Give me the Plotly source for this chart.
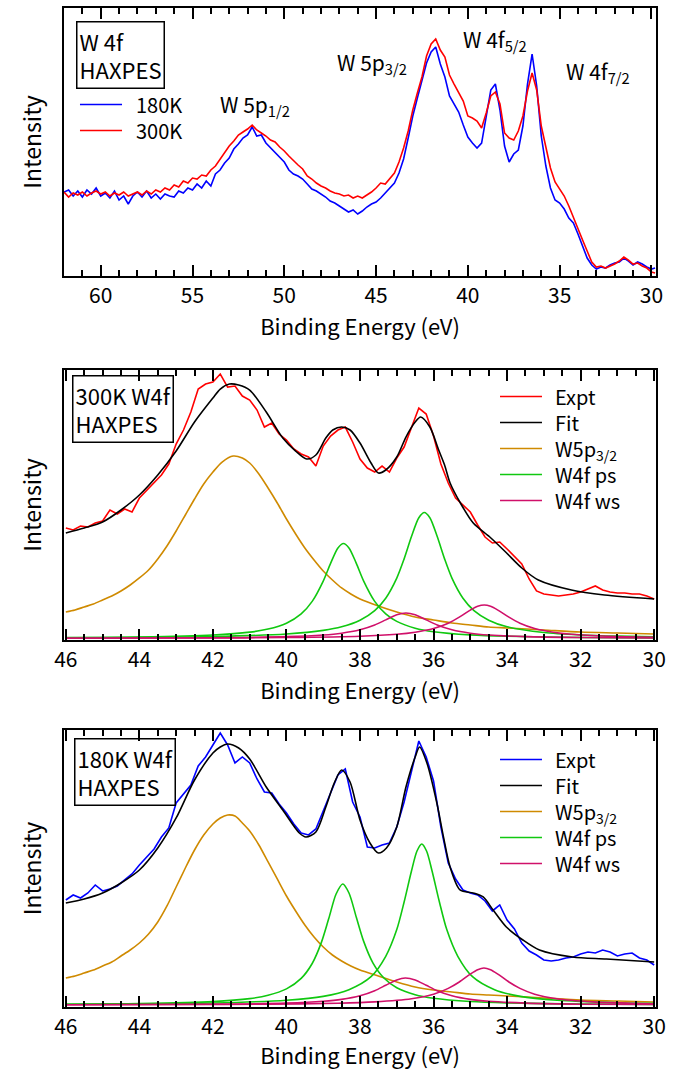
import plotly.graph_objects as go

# ---------------- Top panel: W 4f HAXPES survey (180K vs 300K) ----------------
TOP_E = [62.0, 61.75, 61.5, 61.25, 61.0, 60.75, 60.5, 60.25, 60.0, 59.75,
         59.5, 59.25, 59.0, 58.75, 58.5, 58.25, 58.0, 57.75, 57.5, 57.25,
         57.0, 56.75, 56.5, 56.25, 56.0, 55.75, 55.5, 55.25, 55.0, 54.75,
         54.5, 54.25, 54.0, 53.75, 53.5, 53.25, 53.0, 52.75, 52.5, 52.25,
         52.0, 51.75, 51.5, 51.25, 51.0, 50.75, 50.5, 50.25, 50.0, 49.75,
         49.5, 49.25, 49.0, 48.75, 48.5, 48.25, 48.0, 47.75, 47.5, 47.25,
         47.0, 46.75, 46.5, 46.25, 46.0, 45.75, 45.5, 45.25, 45.0, 44.75,
         44.5, 44.25, 44.0, 43.75, 43.5, 43.25, 43.0, 42.75, 42.5, 42.25,
         42.0, 41.75, 41.5, 41.25, 41.0, 40.75, 40.5, 40.25, 40.0, 39.75,
         39.5, 39.25, 39.0, 38.75, 38.5, 38.25, 38.0, 37.75, 37.5, 37.25,
         37.0, 36.75, 36.5, 36.25, 36.0, 35.75, 35.5, 35.25, 35.0, 34.75,
         34.5, 34.25, 34.0, 33.75, 33.5, 33.25, 33.0, 32.75, 32.5, 32.25,
         32.0, 31.75, 31.5, 31.25, 31.0, 30.75, 30.5, 30.25, 30.0, 29.8]

RED_300K_TOP = [84, 79, 83, 81, 84, 80, 83, 85, 82, 84,
                80, 83, 81, 84, 80, 82, 84, 81, 85, 82,
                86, 84, 88, 86, 91, 89, 95, 93, 98, 97,
                101, 100, 106, 110, 117, 123, 130, 135, 141, 144,
                147, 151, 146, 143, 140, 136, 134, 129, 125, 120,
                115, 111, 107, 100, 97, 93, 90, 88, 85, 83,
                82, 80, 81, 78, 80, 78, 81, 84, 88, 93,
                92, 98, 103, 114, 128, 145, 166, 183, 199, 220,
                232, 237, 226, 219, 201, 192, 183, 175, 160, 158,
                155, 148, 163, 180, 184, 172, 143, 138, 136, 145,
                160, 185, 203, 186, 150, 128, 108, 94, 87, 80,
                70, 58, 46, 36, 25, 14, 9, 10, 8, 10,
                12, 15, 19, 16, 12, 13, 10, 8, 4, 3]

BLUE_180K_TOP = [84, 86, 80, 85, 79, 86, 82, 88, 80, 83,
                 78, 85, 76, 80, 72, 80, 84, 79, 85, 78,
                 82, 77, 82, 80, 79, 85, 83, 88, 86, 92,
                 88, 95, 90, 102, 106, 113, 118, 127, 132, 138,
                 141, 149, 140, 141, 133, 128, 124, 118, 114, 106,
                 102, 100, 97, 92, 87, 85, 82, 79, 75, 73,
                 70, 67, 64, 66, 62, 65, 69, 72, 74, 78,
                 83, 88, 93, 103, 117, 138, 160, 178, 196, 213,
                 224, 229, 212, 199, 180, 172, 164, 151, 139, 133,
                 128, 133, 160, 186, 192, 166, 130, 114, 122, 126,
                 150, 192, 222, 190, 140, 110, 88, 76, 73, 67,
                 58, 53, 42, 30, 18, 11, 7, 9, 8, 11,
                 13, 14, 18, 15, 11, 14, 12, 9, 7, 8]

TOP_LABELS = ["W 5p<sub>1/2</sub>", "W 5p<sub>3/2</sub>", "W 4f<sub>5/2</sub>", "W 4f<sub>7/2</sub>"]
TOP_LABEL_E = [51.6, 45.2, 38.5, 32.9]
TOP_LABEL_I = [171, 213, 236, 204]

# ---------------- Middle / bottom panels: experimental spectra ----------------
FIT_EXPT_E = [46.0, 45.8, 45.6, 45.4, 45.2, 45.0, 44.8, 44.6, 44.4, 44.2,
              44.0, 43.8, 43.6, 43.4, 43.2, 43.0, 42.8, 42.6, 42.4, 42.2,
              42.0, 41.8, 41.6, 41.4, 41.2, 41.0, 40.8, 40.6, 40.4, 40.2,
              40.0, 39.8, 39.6, 39.4, 39.2, 39.0, 38.8, 38.6, 38.4, 38.2,
              38.0, 37.8, 37.6, 37.4, 37.2, 37.0, 36.8, 36.6, 36.4, 36.2,
              36.0, 35.8, 35.6, 35.4, 35.2, 35.0, 34.8, 34.6, 34.4, 34.2,
              34.0, 33.8, 33.6, 33.4, 33.2, 33.0, 32.8, 32.6, 32.4, 32.2,
              32.0, 31.8, 31.6, 31.4, 31.2, 31.0, 30.8, 30.6, 30.4, 30.2,
              30.0]

EXPT_300K = [112, 110, 114, 113, 117, 119, 130, 126, 131, 128,
             142, 150, 157, 165, 176, 196, 210, 228, 251, 256,
             258, 266, 253, 254, 244, 240, 230, 213, 217, 206,
             200, 191, 186, 183, 174, 194, 204, 210, 213, 198,
             181, 172, 168, 174, 168, 182, 193, 212, 232, 226,
             204, 176, 157, 142, 135, 128, 115, 103, 97, 98,
             91, 84, 76, 61, 49, 46, 45, 44, 45, 46,
             48, 51, 54, 50, 48, 47, 47, 46, 46, 44,
             41]

EXPT_180K = [107, 112, 109, 114, 122, 116, 118, 121, 127, 133,
             142, 150, 158, 170, 179, 204, 213, 222, 241, 250,
             262, 274, 262, 244, 250, 244, 228, 215, 214, 203,
             194, 183, 174, 172, 178, 196, 214, 232, 238, 205,
             190, 160, 159, 162, 164, 180, 205, 236, 266, 250,
             226, 180, 144, 128, 117, 114, 112, 106, 96, 102,
             87, 78, 64, 56, 52, 47, 46, 47, 49, 50,
             53, 55, 54, 57, 55, 51, 53, 54, 49, 47,
             42]

# ---------------- Fit envelopes ----------------
FIT_300K_E = [46, 45.5, 45, 44.5, 44, 43.5, 43, 42.5, 42, 41.8,
              41.55, 41.3, 41, 40.55, 40.1, 39.75, 39.45, 39.2, 38.93, 38.74,
              38.5, 38.27, 38, 37.7, 37.5, 37.3, 37, 36.75, 36.5, 36.35,
              36.1, 35.86, 35.7, 35.55, 35.27, 34.92, 34.47, 34.04, 33.6, 33.15,
              32.25, 31.35, 30]
FIT_300K = [107, 112, 118, 130, 145, 165, 189, 218, 242, 251,
            256, 255, 250, 228, 202, 189, 181, 185, 202, 210,
            213, 210, 197, 177, 167, 170, 183, 203, 218, 223,
            213, 190, 175, 157, 137, 117, 103, 88, 72, 60,
            50, 45, 41]

FIT_180K_E = [46, 45.5, 45, 44.5, 44, 43.5, 43, 42.5, 42, 41.8,
              41.6, 41.3, 41, 40.55, 40.1, 39.65, 39.47, 39.2, 38.93, 38.7,
              38.5, 38.27, 38, 37.73, 37.5, 37.28, 37, 36.75, 36.5, 36.38,
              36.18, 35.91, 35.73, 35.55, 35.28, 34.92, 34.65, 34.38, 34.02, 33.57,
              33.12, 32.22, 31.3, 30]
FIT_180K = [104, 108, 114, 124, 137, 159, 189, 227, 254, 260,
            263, 259, 248, 220, 197, 174, 170, 175, 200, 224,
            237, 225, 187, 164, 154, 159, 180, 220, 250, 260,
            244, 204, 170, 140, 117, 114, 110, 97, 80, 67,
            57, 50, 48, 45]

# ---------------- Components, 300K ----------------
W5P_300K_E = [46, 45.75, 45.5, 45.25, 45, 44.75, 44.5, 44.25, 44, 43.75, 43.5, 43.25, 43,
              42.75, 42.5, 42.25, 42, 41.75, 41.45, 41.2, 41, 40.75, 40.5, 40.25, 40,
              39.75, 39.5, 39.25, 39, 38.75, 38.5, 38.25, 38, 37.5, 37, 36.5, 36,
              35.5, 35, 34.5, 34, 33, 32, 31, 30]
W5P_300K = [28, 30, 33, 36, 40, 44, 49, 55, 62, 70, 81, 94, 109,
            125, 141, 156, 168, 178, 184, 182, 177, 166, 152, 137, 121,
            106, 92, 80, 69, 60, 52, 46, 41, 34, 28, 23, 20,
            17, 15, 13, 12, 10, 8, 7, 6]

PS1_300K_E = [46, 44, 42, 41, 40.5, 40, 39.6, 39.3, 39.0, 38.8, 38.6, 38.45,
              38.3, 38.1, 37.9, 37.6, 37.3, 37.0, 36.5, 36, 35, 34, 32, 30]
PS1_300K = [2.3, 2.9, 4.9, 7.8, 10.9, 16.8, 26.1, 38.6, 58.9, 76.6, 92.1, 96.5,
            92.1, 76.6, 58.9, 38.6, 26.1, 18.6, 11.8, 8.3, 5.1, 3.7, 2.5, 2.1]

PS2_300K_E = [46, 44, 42, 40, 39, 38.5, 38, 37.6, 37.3, 37.0, 36.8, 36.6, 36.4,
              36.25, 36.1, 35.9, 35.7, 35.5, 35.2, 34.9, 34.5, 34, 33, 32, 31, 30]
PS2_300K = [2.2, 2.6, 3.4, 6.0, 9.6, 13.2, 19.8, 29.4, 41.8, 61.9, 81.1, 103.4, 122.3,
            127.5, 122.3, 103.4, 81.1, 61.9, 41.8, 29.4, 19.8, 13.2, 7.4, 5.0, 3.8, 3.2]

WS1_300K_E = [46, 42, 40, 39, 38.5, 38, 37.6, 37.3, 37.0, 36.75,
              36.5, 36.2, 35.9, 35.5, 35, 34.5, 33.5, 32, 30]
WS1_300K = [1.7, 2.2, 3.3, 5.0, 6.8, 10.2, 15.0, 20.1, 25.2, 27.0,
            25.2, 20.1, 15.0, 10.2, 6.8, 5.0, 3.3, 2.4, 1.9]

WS2_300K_E = [46, 42, 40, 38, 37, 36.5, 36, 35.6, 35.3, 35.0, 34.8,
              34.62, 34.45, 34.25, 33.95, 33.65, 33.25, 32.75, 32.25, 31.25, 30]
WS2_300K = [1.7, 2.0, 2.4, 3.7, 5.7, 7.8, 11.5, 16.8, 22.8, 29.9, 33.7,
            35.0, 33.7, 29.9, 22.8, 16.8, 11.5, 7.8, 5.7, 3.7, 2.7]

# ---------------- Components, 180K ----------------
W5P_180K_E = [46, 45.75, 45.5, 45.25, 45, 44.75, 44.5, 44.25, 44, 43.75, 43.5, 43.25, 43,
              42.75, 42.5, 42.25, 42, 41.8, 41.6, 41.4, 41.2, 41, 40.75, 40.5, 40.25, 40,
              39.75, 39.5, 39.25, 39, 38.75, 38.5, 38.25, 38, 37.5, 37, 36.5, 36,
              35.5, 35, 34.5, 34, 33, 32, 31, 30]
W5P_180K = [29, 31, 34, 37, 41, 45, 51, 57, 64, 73, 85, 101, 120,
            139, 157, 172, 183, 189, 192, 191, 184, 176, 162, 145, 128, 111,
            96, 82, 70, 60, 52, 46, 41, 37, 31, 25, 20, 17,
            15, 13, 12, 11, 9, 7, 6, 5]

PS1_180K_E = [46, 44, 42, 41, 40.5, 40, 39.6, 39.3, 39.05, 38.85, 38.65, 38.47,
              38.3, 38.1, 37.9, 37.65, 37.35, 37.0, 36.5, 36, 35, 34, 32, 30]
PS1_180K = [2.7, 3.4, 5.4, 8.4, 11.7, 18.1, 28.6, 43.5, 64.6, 88.4, 113, 123,
            114, 89.7, 65.6, 44.2, 29, 19.3, 12.3, 8.8, 5.5, 4.1, 3.0, 2.6]

PS2_180K_E = [46, 44, 42, 40, 39, 38.3, 37.7, 37.3, 37.0, 36.8, 36.6, 36.45,
              36.32, 36.19, 36.04, 35.84, 35.64, 35.34, 34.94, 34.34, 33.64, 32.64, 31, 30]
PS2_180K = [2.7, 3.1, 4.0, 6.7, 10.6, 17.3, 30.3, 50.7, 77.4, 105, 136, 156,
            163, 156, 136, 105, 77.4, 50.7, 30.3, 17.3, 10.6, 6.7, 4.3, 3.6]

WS1_180K_E = [46, 42, 40, 39, 38.5, 38, 37.6, 37.3, 37.0, 36.77,
              36.5, 36.2, 35.9, 35.5, 35, 34.5, 33.5, 32, 30]
WS1_180K = [2.3, 2.8, 3.9, 5.7, 7.6, 11.2, 16.3, 21.7, 27.1, 29,
            27.1, 21.7, 16.3, 11.2, 7.6, 5.7, 3.9, 2.8, 2.5]

WS2_180K_E = [46, 42.6, 40.6, 38.6, 37.6, 36.6, 36.0, 35.6, 35.3, 35.0, 34.8,
              34.63, 34.45, 34.25, 33.95, 33.65, 33.25, 32.65, 31.65, 30.63, 30]
WS2_180K = [2.2, 2.5, 2.8, 3.8, 5.1, 8.2, 12.8, 18.6, 25, 32.9, 37.3,
            39, 37.3, 32.9, 25, 18.6, 12.8, 8.2, 5.1, 3.8, 3.3]

# ---------------- Styling ----------------
FONT = "Noto Sans CJK JP"
BLUE = "#0000FF"
RED = "#FF0000"
BLACK = "#000000"
ORANGE = "#CF8A00"
GREEN = "#10C810"
PINK = "#D0106A"
LW = 1.6

fig = go.Figure()

# top panel
fig.add_trace(go.Scatter(x=TOP_E, y=BLUE_180K_TOP, mode="lines", name="180K",
                         line=dict(color=BLUE, width=LW), xaxis="x", yaxis="y"))
fig.add_trace(go.Scatter(x=TOP_E, y=RED_300K_TOP, mode="lines", name="300K",
                         line=dict(color=RED, width=LW), xaxis="x", yaxis="y"))


def add_fit_panel(xa, ya, expt_y, expt_color, fit_e, fit_y, comps):
    fig.add_trace(go.Scatter(x=FIT_EXPT_E, y=expt_y, mode="lines", name="Expt",
                             line=dict(color=expt_color, width=LW), xaxis=xa, yaxis=ya))
    fig.add_trace(go.Scatter(x=fit_e, y=fit_y, mode="lines", name="Fit",
                             line=dict(color=BLACK, width=LW, shape="spline", smoothing=0.8),
                             xaxis=xa, yaxis=ya))
    for (e, v, color, name) in comps:
        fig.add_trace(go.Scatter(x=e, y=v, mode="lines", name=name,
                                 line=dict(color=color, width=LW, shape="spline", smoothing=0.8),
                                 xaxis=xa, yaxis=ya))


add_fit_panel("x2", "y2", EXPT_300K, RED, FIT_300K_E, FIT_300K, [
    (W5P_300K_E, W5P_300K, ORANGE, "W5p3/2"),
    (PS1_300K_E, PS1_300K, GREEN, "W4f ps"),
    (PS2_300K_E, PS2_300K, GREEN, "W4f ps"),
    (WS1_300K_E, WS1_300K, PINK, "W4f ws"),
    (WS2_300K_E, WS2_300K, PINK, "W4f ws"),
])

add_fit_panel("x3", "y3", EXPT_180K, BLUE, FIT_180K_E, FIT_180K, [
    (W5P_180K_E, W5P_180K, ORANGE, "W5p3/2"),
    (PS1_180K_E, PS1_180K, GREEN, "W4f ps"),
    (PS2_180K_E, PS2_180K, GREEN, "W4f ps"),
    (WS1_180K_E, WS1_180K, PINK, "W4f ws"),
    (WS2_180K_E, WS2_180K, PINK, "W4f ws"),
])


def xaxis_style(rng, dtick, minor_dtick, anchor):
    return dict(
        range=rng, anchor=anchor, domain=[0, 1],
        dtick=dtick, tick0=30, ticks="inside", ticklen=11, tickwidth=1.5, tickcolor="black",
        minor=dict(dtick=minor_dtick, tick0=30, ticks="inside", ticklen=6, tickwidth=1.5,
                   tickcolor="black", showgrid=False),
        showline=True, linewidth=2, linecolor="black", mirror="ticks",
        showgrid=False, zeroline=False,
        tickfont=dict(family=FONT, size=21, color="black"),
        title=dict(text="Binding Energy (eV)", font=dict(family=FONT, size=22, color="black"), standoff=11),
        automargin=False,
    )


def yaxis_style(rng, domain, anchor):
    return dict(
        range=rng, domain=domain, anchor=anchor,
        showticklabels=False, ticks="", showline=True, linewidth=2, linecolor="black",
        mirror=True, showgrid=False, zeroline=False,
        title=dict(text="Intensity", font=dict(family=FONT, size=23, color="black"), standoff=14),
        automargin=False,
    )


annotations = []
shapes = []
for txt, e, i in zip(TOP_LABELS, TOP_LABEL_E, TOP_LABEL_I):
    annotations.append(dict(text=txt, x=e, y=i, xref="x", yref="y", showarrow=False,
                            font=dict(family=FONT, size=21, color="black")))

box_common = dict(showarrow=False, align="left", xanchor="left", yanchor="top",
                  bordercolor="black", borderwidth=1.5, borderpad=2,
                  font=dict(family=FONT, size=22, color="black"))
annotations.append(dict(text="W 4f<br>HAXPES", x=0.02, y=0.952, xref="x domain", yref="y domain", **box_common))
annotations.append(dict(text="300K W4f<br>HAXPES", x=0.013, y=0.982, xref="x2 domain", yref="y2 domain", **box_common))
annotations.append(dict(text="180K W4f<br>HAXPES", x=0.017, y=0.972, xref="x3 domain", yref="y3 domain", **box_common))

# legends: one multi-line label block per panel plus a key line for each row
LEG_FONT = 20
LEGENDS = [
    ("x", "y", 0.027, 0.098, 0.118, 0.5914,
     [("180K", BLUE, 0.6399), ("300K", RED, 0.5429)]),
    ("x2", "y2", 0.7365, 0.8074, 0.826, 0.7093,
     [("Expt", RED, 0.9019), ("Fit", BLACK, 0.8056), ("W5p<sub>3/2</sub>", ORANGE, 0.7093),
      ("W4f ps", GREEN, 0.6130), ("W4f ws", PINK, 0.5167)]),
    ("x3", "y3", 0.7365, 0.8074, 0.826, 0.7058,
     [("Expt", BLUE, 0.8935), ("Fit", BLACK, 0.7996), ("W5p<sub>3/2</sub>", ORANGE, 0.7058),
      ("W4f ps", GREEN, 0.6119), ("W4f ws", PINK, 0.5181)]),
]
for xa, ya, lx0, lx1, tx, ty, items in LEGENDS:
    for label, color, yy in items:
        shapes.append(dict(type="line", xref=xa + " domain", yref=ya + " domain",
                           x0=lx0, x1=lx1, y0=yy, y1=yy, line=dict(color=color, width=LW)))
    annotations.append(dict(text="<br>".join(it[0] for it in items), x=tx, y=ty,
                            xref=xa + " domain", yref=ya + " domain", align="left",
                            xanchor="left", yanchor="middle", showarrow=False,
                            font=dict(family=FONT, size=LEG_FONT, color="black")))

fig.update_layout(
    width=681, height=1070,
    margin=dict(l=64, r=25, t=8, b=63),
    paper_bgcolor="white", plot_bgcolor="white",
    font=dict(family=FONT, color="black"),
    xaxis=xaxis_style([62, 29.75], 5, 1, "y"),
    yaxis=yaxis_style([0, 268], [0.7317, 1.0], "x"),
    xaxis2=xaxis_style([46.05, 29.95], 2, 0.5, "y2"),
    yaxis2=yaxis_style([0, 270], [0.3674, 0.6376], "x2"),
    xaxis3=xaxis_style([46.05, 29.95], 2, 0.5, "y3"),
    yaxis3=yaxis_style([0, 277], [0.0, 0.2773], "x3"),
    annotations=annotations,
    shapes=shapes,
    showlegend=False,
)

fig.write_html("out.html")
